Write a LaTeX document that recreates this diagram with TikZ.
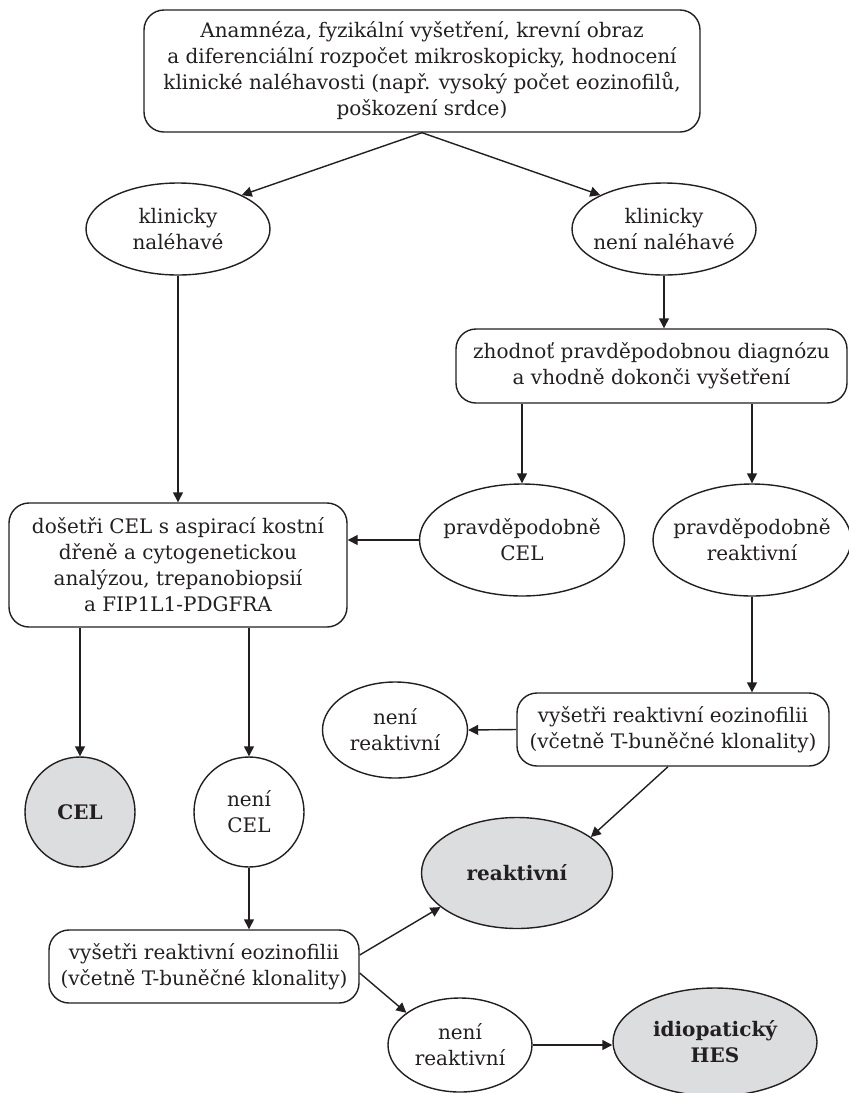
\documentclass[tikz,border=0pt]{standalone}
\usepackage{fontspec}
\setmainfont{DejaVu Serif}
\usetikzlibrary{shapes.geometric,arrows.meta}
\definecolor{fillgray}{RGB}{220,221,223}
\definecolor{ink}{RGB}{35,31,32}
\newcommand\myfs{\fontsize{10}{13}\selectfont}
\begin{document}
\begin{tikzpicture}[x=0.5pt,y=-0.5pt,
  rbox/.style={draw=ink, rounded corners=10pt, align=center, inner sep=0pt, line width=0.7pt, text=ink, font=\myfs},
  ell/.style={draw=ink, ellipse, inner sep=0pt, line width=0.7pt},
  circ/.style={draw=ink, circle, inner sep=0pt, line width=0.7pt},
  shade/.style={fill=fillgray},
  txt/.style={label={[align=center,font=\myfs,text=ink]center:#1}},
  btxt/.style={label={[align=center,font=\myfs\bfseries,text=ink]center:#1}},
  arr/.style={draw=ink, line width=0.7pt, -{Triangle[length=5pt,width=5pt]}}]
\useasboundingbox (0,0) rectangle (848,1093);
% nodes
\node[rbox, minimum width=278pt, minimum height=61pt] (top) at (422,71)
  {Anamnéza, fyzikální vyšetření, krevní obraz\\a diferenciální rozpočet mikroskopicky, hodnocení\\klinické naléhavosti (např. vysoký počet eozinofilů,\\poškození srdce)};
\node[ell, minimum width=92pt, minimum height=46pt, txt={klinicky\\naléhavé}] (urg) at (178,229) {};
\node[ell, minimum width=92pt, minimum height=46pt, txt={klinicky\\není naléhavé}] (nurg) at (664,229) {};
\node[rbox, minimum width=195.5pt, minimum height=37pt] (zhod) at (651.5,366)
  {zhodnoť pravděpodobnou diagnózu\\a vhodně dokonči vyšetření};
\node[ell, minimum width=102.5pt, minimum height=56pt, txt={pravděpodobně\\CEL}] (pcel) at (522,540) {};
\node[ell, minimum width=99pt, minimum height=56pt, txt={pravděpodobně\\reaktivní}] (preak) at (752,540) {};
\node[rbox, minimum width=169pt, minimum height=62pt] (celbox) at (178,565)
  {došetři CEL s aspirací kostní\\dřeně a cytogenetickou\\analýzou, trepanobiopsií\\a FIP1L1-PDGFRA};
\node[circ, shade, minimum size=55pt, btxt={CEL}] (cel) at (80,812) {};
\node[circ, minimum size=55pt, txt={není\\CEL}] (ncel) at (249,812) {};
\node[rbox, minimum width=156pt, minimum height=36.5pt] (vys1) at (673,729.5)
  {vyšetři reaktivní eozinofilii\\(včetně T-buněčné klonality)};
\node[ell, minimum width=72.5pt, minimum height=48pt, txt={není\\reaktivní}] (nreak1) at (395,730) {};
\node[ell, shade, minimum width=95.5pt, minimum height=55.5pt, btxt={reaktivní}] (reak) at (517,873) {};
\node[rbox, minimum width=155pt, minimum height=36.5pt] (vys2) at (204,966.5)
  {vyšetři reaktivní eozinofilii\\(včetně T-buněčné klonality)};
\node[ell, minimum width=72pt, minimum height=47pt, txt={není\\reaktivní}] (nreak2) at (460,1045) {};
\node[ell, shade, minimum width=102pt, minimum height=54pt, btxt={idiopatický\\HES}] (hes) at (715,1042) {};
% connectors
\draw[arr] (top.south) -- (urg.28);
\draw[arr] (top.south) -- (nurg.152);
\draw[arr] (urg.south) -- (celbox.north);
\draw[arr] (nurg.south) -- (nurg.south |- zhod.north);
\draw[arr] (pcel.north |- zhod.south) -- (pcel.north);
\draw[arr] (preak.north |- zhod.south) -- (preak.north);
\draw[arr] (pcel.west) -- (pcel.west -| celbox.east);
\draw[arr] (cel.north |- celbox.south) -- (cel.north);
\draw[arr] (ncel.north |- celbox.south) -- (ncel.north);
\draw[arr] (preak.south) -- (preak.south |- vys1.north);
\draw[arr] (vys1.west) -- (nreak1.east);
\draw[arr] ([xshift=-2.5pt]vys1.south) -- (reak.26);
\draw[arr] (ncel.south) -- (ncel.south |- vys2.north);
\draw[arr] ([yshift=5.75pt]vys2.east) -- (reak.204);
\draw[arr] ([yshift=-3.25pt]vys2.east) -- (nreak2.149);
\draw[arr] (nreak2.east) -- (nreak2.east -| hes.west);
\end{tikzpicture}
\end{document}
